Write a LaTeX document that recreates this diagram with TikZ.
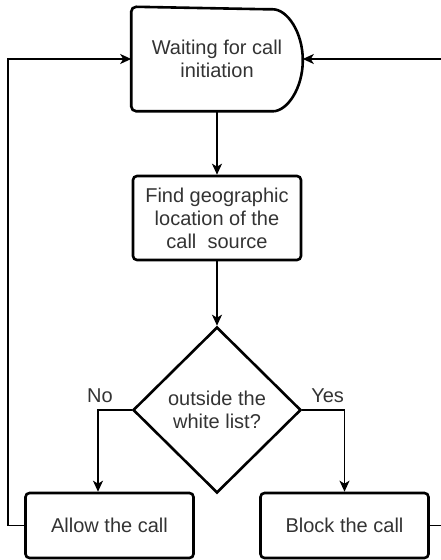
\documentclass[tikz,border=0pt]{standalone}
\usepackage{fontspec}
\setmainfont{Liberation Sans}
\usetikzlibrary{shapes.geometric,arrows.meta}

\begin{document}
\begin{tikzpicture}[x=1pt,y=1pt,
  font=\fontsize{20}{23}\selectfont,
  txt/.style={text=black!80, align=center},
  procbox/.style={txt, draw, line width=2.6pt, rounded corners=4pt, minimum width=168pt, inner sep=0pt},
  decision/.style={txt, draw, diamond, line width=2.6pt, minimum width=168pt, minimum height=166pt, inner sep=0pt},
  flowline/.style={line width=1.6pt, -{Stealth[length=11pt,width=10pt,inset=3pt]}},
  answer/.style={txt, above, yshift=3pt}]
  \useasboundingbox (0,0) rectangle (441,560);
  \clip (0,0) rectangle (441,560);
  % Waiting state (delay shape)
  \node[txt, minimum width=169pt, minimum height=102pt, inner sep=0pt, outer sep=1.3pt] (wait) at (217,501) {Waiting for call\\initiation};
  \draw[line width=2.6pt, rounded corners=5pt] ([xshift=-35pt]wait.south east)
    arc[start angle=-90, end angle=90, x radius=35pt, y radius=51pt]
    -- (wait.north west) -- (wait.south west) -- cycle;
  % Process steps
  \node[procbox, minimum height=84pt] (find) at (217,342) {Find geographic\\location of the\\call\ \ source};
  \node[decision] (check) at (217,150) {outside the\\white list?};
  \node[procbox, minimum height=65pt] (allow) at (109.5,34.5) {Allow the call};
  \node[procbox, minimum height=65pt] (block) at (344.5,34.5) {Block the call};
  % Main flow
  \draw[flowline] (wait.south) -- (find.north);
  \draw[flowline] (find.south) -- (check.north);
  \draw[flowline] (check.west) -| node[answer, pos=0.47] {No} ([xshift=-11.5pt]allow.north);
  \draw[flowline] (check.east) -| node[answer, pos=0.3] {Yes} (block.north);
  % Back to waiting
  \draw[flowline] (allow.west) -- ++(-16,0) |- (wait.west);
  \draw[flowline] (block.east) -- ++(18,0) |- (wait.east);
\end{tikzpicture}
\end{document}
